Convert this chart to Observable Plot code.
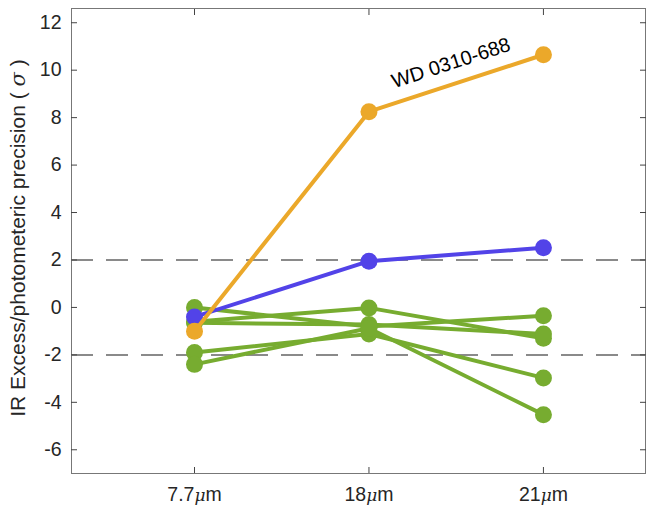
<!DOCTYPE html>
<html><head><meta charset="utf-8">
<script src="https://cdn.jsdelivr.net/npm/d3@7"></script>
<script src="https://cdn.jsdelivr.net/npm/@observablehq/plot@0.6"></script>
<style>
body{margin:0;background:#fff;font-family:"Liberation Sans",Arial,sans-serif;}
</style></head>
<body><div id="chart"></div>
<script>
const bands = ["7.7μm", "18μm", "21μm"];
const bandPos = [1, 2, 3];
const yTicks = [-6, -4, -2, 0, 2, 4, 6, 8, 10, 12];
const thresholds = [2, -2];
const orangeSeries = [-1.0, 8.25, 10.65];
const blueSeries = [-0.4, 1.95, 2.52];
const green1 = [-0.6, -0.02, -1.3];
const green2 = [0.0, -0.8, -0.35];
const green3 = [-0.65, -0.72, -1.12];
const green4 = [-1.9, -1.12, -2.97];
const green5 = [-2.4, -0.88, -4.52];
const annotation = "WD 0310-688";

const colGreen = "#77AC30", colBlue = "#5243E8", colOrange = "#EBA82A";
const toRows = (vals, id) => vals.map((v, i) => ({id, x: bandPos[i], y: v}));
const greens = [green1, green2, green3, green4, green5].flatMap((s, k) => toRows(s, "g" + k));
const blues = toRows(blueSeries, "b");
const oranges = toRows(orangeSeries, "o");

const fmt = d => bands[bandPos.indexOf(d)] ?? "";
const plot = Plot.plot({
  width: 647, height: 510,
  marginLeft: 71, marginRight: 2, marginTop: 8, marginBottom: 37,
  style: {fontFamily: "Liberation Sans, Arial, sans-serif", fontSize: "19.5px", color: "#262626", background: "#fff"},
  x: {domain: [0.295, 3.585]},
  y: {domain: [-7, 12.6]},
  marks: [
    Plot.ruleY(thresholds, {stroke: "#8a8a8a", strokeWidth: 2, strokeDasharray: "22,13"}),
    Plot.line(greens, {x: "x", y: "y", z: "id", stroke: colGreen, strokeWidth: 4}),
    Plot.dot(greens, {x: "x", y: "y", r: 8.5, fill: colGreen}),
    Plot.line(blues, {x: "x", y: "y", stroke: colBlue, strokeWidth: 4}),
    Plot.dot(blues, {x: "x", y: "y", r: 8.5, fill: colBlue}),
    Plot.line(oranges, {x: "x", y: "y", stroke: colOrange, strokeWidth: 4}),
    Plot.dot(oranges, {x: "x", y: "y", r: 8.5, fill: colOrange}),
    Plot.text([annotation], {x: 2.47, y: 10.3, text: d => d, rotate: -18, fontSize: 20, fill: "#000"}),
    Plot.frame({stroke: "#777", strokeWidth: 1}),
    Plot.axisY(yTicks, {anchor: "left", tickSize: -6, tickPadding: 16, tickFormat: d => String(d), label: null, stroke: "#444"}),
    Plot.axisY(yTicks, {anchor: "right", tickSize: -6, tickFormat: () => "", label: null, stroke: "#444"}),
    Plot.axisX(bandPos, {anchor: "bottom", tickSize: -6, tickPadding: 20, tickFormat: fmt, label: null, stroke: "#444"}),
    Plot.axisX(bandPos, {anchor: "top", tickSize: -6, tickFormat: () => "", label: null, stroke: "#444"})
  ]
});
document.getElementById("chart").appendChild(plot);

const svg = d3.select(plot);
svg.selectAll('g[aria-label$="tick label"]').attr("font-size", null).style("font-size", "19.5px")
  .selectAll("text").style("font-size", "19.5px");

// italic mu in x tick labels
svg.selectAll("text").each(function() {
  const t = this.textContent;
  if (/μm$/.test(t) && this.childElementCount === 0) {
    const pre = t.replace("μm", "");
    const sel = d3.select(this); sel.text(null);
    sel.append("tspan").text(pre);
    sel.append("tspan").attr("font-style", "italic").attr("font-family", "DejaVu Serif, serif").style("font-size", "17px").text("μ");
    sel.append("tspan").text("m");
  }
});
// y axis label
const lab = svg.append("text")
  .attr("transform", "translate(25,238) rotate(-90)")
  .attr("text-anchor", "middle")
  .attr("font-size", 21).attr("fill", "#262626")
  .attr("font-family", "Liberation Sans, Arial, sans-serif");
lab.append("tspan").text("IR Excess/photometeric precision ( ");
lab.append("tspan").attr("font-style", "italic").attr("font-family", "DejaVu Serif, serif").text("σ");
lab.append("tspan").text(" )");
</script></body></html>
